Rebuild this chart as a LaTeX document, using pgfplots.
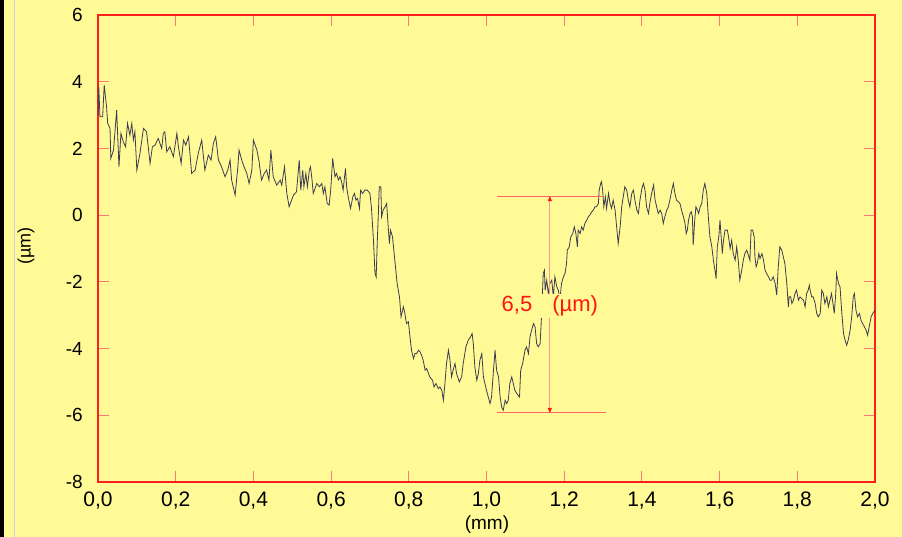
\documentclass[border=0pt]{standalone}
\usepackage{pgfplots}
\pgfplotsset{compat=1.18}
\usepackage{fontspec}
\setmainfont{Liberation Sans}
\usetikzlibrary{arrows.meta}
\definecolor{bgyellow}{RGB}{255,250,150}
\definecolor{axisred}{RGB}{255,30,30}
\definecolor{tickred}{RGB}{255,120,120}
\definecolor{annred}{RGB}{255,100,100}
\definecolor{annpink}{RGB}{255,150,150}
\definecolor{txtred}{RGB}{255,20,20}
\definecolor{curvecol}{RGB}{60,60,82}
\definecolor{edgeline}{RGB}{205,205,230}
\pgfplotstableread{
x y
0.000 3.00
0.002 3.85
0.005 2.95
0.012 2.95
0.016 3.90
0.022 3.25
0.025 2.75
0.031 2.60
0.033 1.70
0.040 1.95
0.048 3.15
0.054 1.45
0.059 2.45
0.065 2.20
0.071 2.05
0.076 2.75
0.082 2.40
0.087 2.75
0.091 2.25
0.095 2.50
0.100 1.35
0.108 1.85
0.117 2.60
0.125 2.50
0.134 1.55
0.140 2.05
0.147 2.10
0.155 2.30
0.164 2.00
0.168 2.45
0.172 2.50
0.177 1.90
0.185 2.05
0.194 1.75
0.203 2.45
0.207 2.05
0.214 1.55
0.220 2.25
0.226 2.10
0.233 2.35
0.241 1.25
0.250 1.35
0.258 1.85
0.267 2.25
0.275 1.35
0.284 1.80
0.291 1.65
0.297 2.15
0.303 2.35
0.310 1.65
0.318 1.45
0.327 1.15
0.334 1.35
0.340 1.65
0.344 1.05
0.353 0.60
0.360 1.45
0.363 1.95
0.370 1.65
0.376 1.45
0.383 1.25
0.389 0.95
0.396 1.35
0.400 2.25
0.409 1.95
0.414 1.65
0.421 1.05
0.428 1.25
0.434 1.35
0.440 1.05
0.445 1.95
0.451 1.15
0.460 0.90
0.469 1.05
0.473 0.90
0.480 1.45
0.486 0.65
0.492 0.25
0.503 0.60
0.511 0.70
0.518 1.65
0.522 0.75
0.527 1.35
0.530 0.85
0.535 1.25
0.539 0.85
0.544 1.35
0.547 1.45
0.551 1.05
0.554 0.65
0.563 0.95
0.570 0.85
0.576 0.95
0.580 0.65
0.584 0.85
0.590 0.35
0.595 0.30
0.599 0.75
0.604 1.70
0.610 1.15
0.614 1.25
0.619 1.05
0.623 1.15
0.627 1.00
0.631 0.75
0.637 1.40
0.640 0.85
0.644 0.55
0.650 0.20
0.656 0.55
0.660 0.65
0.664 0.45
0.668 0.50
0.673 0.20
0.676 0.75
0.681 0.65
0.687 0.75
0.693 0.75
0.700 0.65
0.704 0.20
0.709 -0.75
0.713 -1.75
0.716 -1.85
0.719 -0.75
0.722 0.15
0.724 0.85
0.728 0.85
0.730 -0.05
0.734 0.15
0.739 0.25
0.743 0.35
0.747 -0.35
0.750 -0.85
0.753 -0.45
0.758 -0.65
0.764 -1.35
0.770 -2.05
0.776 -2.45
0.780 -3.05
0.786 -2.75
0.790 -2.95
0.794 -3.25
0.799 -3.20
0.803 -3.65
0.807 -4.05
0.812 -4.30
0.816 -4.15
0.820 -4.15
0.825 -4.05
0.829 -4.10
0.833 -4.20
0.837 -4.35
0.842 -4.65
0.846 -4.60
0.854 -4.85
0.861 -4.95
0.865 -5.15
0.870 -5.05
0.876 -5.20
0.880 -5.15
0.885 -5.25
0.889 -5.55
0.893 -5.05
0.897 -4.45
0.902 -4.05
0.906 -4.35
0.910 -4.85
0.914 -4.65
0.919 -4.45
0.923 -4.75
0.930 -5.00
0.936 -4.85
0.940 -4.45
0.947 -3.95
0.953 -3.75
0.959 -3.65
0.963 -3.55
0.966 -3.85
0.970 -4.55
0.975 -4.95
0.979 -4.75
0.983 -4.35
0.988 -4.15
0.992 -4.85
1.000 -5.25
1.009 -5.65
1.013 -5.45
1.018 -4.65
1.022 -4.05
1.026 -4.65
1.031 -4.85
1.035 -5.45
1.039 -5.75
1.043 -5.85
1.048 -5.55
1.052 -5.65
1.056 -5.55
1.060 -5.05
1.065 -4.85
1.069 -5.05
1.073 -5.25
1.078 -5.35
1.085 -5.45
1.088 -4.65
1.093 -4.45
1.099 -4.05
1.103 -3.95
1.108 -4.15
1.112 -3.65
1.116 -3.45
1.121 -3.25
1.125 -3.35
1.129 -3.85
1.133 -3.95
1.138 -3.85
1.142 -2.95
1.146 -1.75
1.149 -1.65
1.151 -2.25
1.155 -1.95
1.159 -2.35
1.163 -2.05
1.168 -1.95
1.172 -2.45
1.176 -1.85
1.181 -2.15
1.185 -2.25
1.189 -2.55
1.193 -2.05
1.198 -1.85
1.202 -1.75
1.206 -1.45
1.208 -1.05
1.213 -0.95
1.217 -0.65
1.222 -0.55
1.226 -0.35
1.230 -0.55
1.234 -0.95
1.236 -0.45
1.241 -0.55
1.245 -0.35
1.249 -0.45
1.253 -0.25
1.258 -0.15
1.262 -0.05
1.266 0.00
1.271 0.10
1.275 0.15
1.279 0.25
1.283 0.25
1.288 0.35
1.290 0.75
1.294 0.95
1.296 1.00
1.299 0.75
1.302 0.25
1.306 0.55
1.309 0.20
1.314 0.65
1.318 0.35
1.322 0.20
1.326 0.45
1.331 0.15
1.335 -0.35
1.339 -0.85
1.344 -0.35
1.348 0.25
1.352 0.55
1.356 0.85
1.361 0.75
1.365 0.45
1.369 0.25
1.374 0.65
1.378 0.75
1.382 0.45
1.387 0.15
1.391 0.05
1.395 0.45
1.400 0.80
1.404 0.95
1.408 0.75
1.412 0.25
1.417 0.05
1.421 0.40
1.425 0.65
1.430 0.90
1.434 0.45
1.438 0.25
1.442 0.05
1.447 0.15
1.451 0.05
1.455 -0.25
1.459 -0.05
1.464 0.15
1.468 0.25
1.472 0.45
1.477 0.75
1.481 0.95
1.485 0.65
1.489 0.45
1.494 0.40
1.498 0.35
1.502 0.15
1.507 -0.05
1.511 -0.25
1.514 -0.55
1.517 -0.45
1.520 -0.15
1.524 0.05
1.527 0.10
1.530 -0.05
1.532 -0.90
1.536 -0.15
1.539 0.25
1.543 0.15
1.546 0.05
1.550 0.25
1.554 0.35
1.558 0.75
1.562 0.95
1.567 0.65
1.571 -0.05
1.575 -0.65
1.580 -0.95
1.584 -1.35
1.588 -1.65
1.591 -1.90
1.594 -0.95
1.598 -0.65
1.601 -0.15
1.604 -0.65
1.607 -1.15
1.610 -0.75
1.614 -0.45
1.620 -0.45
1.623 -0.65
1.627 -1.00
1.631 -0.75
1.635 -1.15
1.640 -1.35
1.644 -0.95
1.648 -1.35
1.652 -1.95
1.657 -1.65
1.661 -1.35
1.665 -1.15
1.670 -1.05
1.674 -1.20
1.678 -1.35
1.681 -0.45
1.685 -0.45
1.689 -0.65
1.691 -1.25
1.694 -1.55
1.697 -1.45
1.701 -1.15
1.704 -1.30
1.709 -1.15
1.713 -1.35
1.717 -1.65
1.721 -1.75
1.726 -1.85
1.730 -1.95
1.734 -1.95
1.738 -1.85
1.743 -2.05
1.747 -2.40
1.751 -1.55
1.755 -0.95
1.760 -1.05
1.764 -1.25
1.768 -1.45
1.773 -2.05
1.777 -2.75
1.779 -2.45
1.783 -2.45
1.786 -2.65
1.790 -2.55
1.794 -2.35
1.798 -2.25
1.803 -2.55
1.807 -2.45
1.811 -2.50
1.816 -2.55
1.820 -2.75
1.824 -2.35
1.828 -2.25
1.831 -2.10
1.833 -2.25
1.837 -2.45
1.841 -2.45
1.846 -2.65
1.850 -2.95
1.854 -3.05
1.859 -2.95
1.863 -2.25
1.867 -2.35
1.871 -2.65
1.876 -2.45
1.880 -2.75
1.884 -2.55
1.888 -2.35
1.893 -2.75
1.895 -2.95
1.899 -2.35
1.901 -1.75
1.906 -2.05
1.910 -2.15
1.914 -2.85
1.919 -3.55
1.923 -3.75
1.927 -3.90
1.931 -3.75
1.936 -3.45
1.940 -3.05
1.944 -2.45
1.947 -2.35
1.951 -2.85
1.955 -3.05
1.960 -2.95
1.964 -3.15
1.968 -3.25
1.973 -3.35
1.977 -3.45
1.981 -3.60
1.985 -3.35
1.990 -3.05
1.994 -2.95
2.000 -2.85
}\profile
\begin{document}
\begin{tikzpicture}
\fill[bgyellow] (0,0) rectangle (902bp,537bp);
\fill[black] (0,0) rectangle (4bp,537bp);
\draw[edgeline, line width=0.8bp] (14bp,0) -- (14bp,537bp);
\begin{axis}[
  at={(98bp,55bp)}, anchor=south west,
  scale only axis, width=777bp, height=467bp,
  xmin=0, xmax=2, ymin=-8, ymax=6,
  axis line style={draw=axisred, line width=1.5bp},
  tick style={draw=tickred, line width=1bp},
  major tick length=11bp,
  tick align=inside,
  xtick={0,0.2,0.4,0.6,0.8,1.0,1.2,1.4,1.6,1.8,2.0},
  xticklabels={{0,0},{0,2},{0,4},{0,6},{0,8},{1,0},{1,2},{1,4},{1,6},{1,8},{2,0}},
  ytick={-8,-6,-4,-2,0,2,4,6},
  yticklabels={-8,-6,-4,-2,0,2,4,6},
  xticklabel style={font=\fontsize{21bp}{24bp}\selectfont, text=black, inner sep=0pt, anchor=north, yshift=-10bp},
  yticklabel style={font=\fontsize{19bp}{22bp}\selectfont, text=black, inner sep=0pt, anchor=east, xshift=-15bp},
  xlabel={(mm)}, ylabel={(µm)},
  xlabel style={font=\fontsize{19bp}{22bp}\selectfont, at={(axis description cs:0.5006,-0.092)}, anchor=center, inner sep=0pt},
  ylabel style={font=\fontsize{18bp}{21bp}\selectfont, at={(axis description cs:-0.0927,0.505)}, anchor=center, rotate=0, inner sep=0pt},
  clip=false,
]
\addplot[curvecol, line width=0.8bp, mark=none] table[x=x,y=y] {\profile};
\draw[annred, line width=1bp] (axis cs:1.027,0.57) -- (axis cs:1.30,0.57);
\draw[annred, line width=1bp] (axis cs:1.027,-5.93) -- (axis cs:1.307,-5.93);
\draw[annpink, line width=1bp, {Triangle[length=5bp,width=4bp,color=txtred]}-{Triangle[length=5bp,width=4bp,color=txtred]}] (axis cs:1.163,0.57) -- (axis cs:1.163,-5.93);
\node[fill=bgyellow, text=txtred, inner sep=2bp, font=\fontsize{22bp}{24bp}\selectfont] at (axis cs:1.163,-2.72) {6,5\hspace{20bp}(µm)};
\end{axis}
\pgfresetboundingbox
\path[use as bounding box] (0,0) rectangle (902bp,537bp);
\end{tikzpicture}
\end{document}
